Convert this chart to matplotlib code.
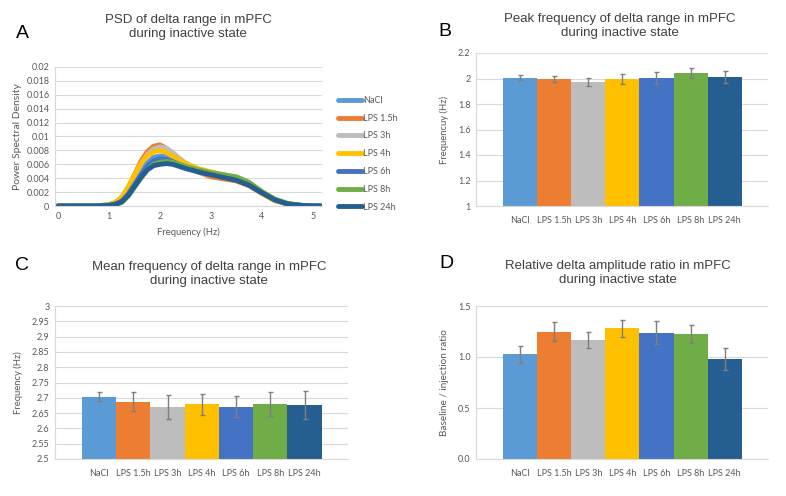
import matplotlib
matplotlib.use("Agg")
import matplotlib.pyplot as plt
import numpy as np

groups = ["NaCl", "LPS 1.5h", "LPS 3h", "LPS 4h", "LPS 6h", "LPS 8h", "LPS 24h"]
colors = ["#5B9BD5", "#ED7D31", "#BDBDBD", "#FFC000", "#4472C4", "#70AD47", "#255E91"]

# PSD curves (panel A)
freq = [0, 0.25, 0.5, 0.75, 1.0, 1.125, 1.25, 1.375, 1.5, 1.625, 1.75, 1.875, 2.0,
        2.125, 2.25, 2.375, 2.5, 2.75, 3.0, 3.25, 3.5, 3.75, 4.0, 4.25, 4.5, 4.75,
        5.0, 5.15]
psd_nacl = [0, 0, 0, 0, 0.0001, 0.0003, 0.0008, 0.0019, 0.0035, 0.0050, 0.0062, 0.0070,
            0.0072, 0.0071, 0.0068, 0.0063, 0.0058, 0.0052, 0.0047, 0.0043, 0.0039,
            0.0031, 0.0019, 0.0009, 0.0003, 0.0001, 0, 0]
psd_lps15 = [0, 0, 0, 0, 0.0002, 0.0005, 0.0012, 0.0026, 0.0045, 0.0064, 0.0078, 0.0086,
             0.0088, 0.0083, 0.0075, 0.0066, 0.0058, 0.0049, 0.0042, 0.0039, 0.0036,
             0.0029, 0.0018, 0.0008, 0.0003, 0.0001, 0, 0]
psd_lps3 = [0, 0, 0, 0, 0.0002, 0.0004, 0.0011, 0.0024, 0.0042, 0.0060, 0.0074, 0.0082,
            0.0085, 0.0083, 0.0077, 0.0069, 0.0062, 0.0053, 0.0047, 0.0043, 0.0039,
            0.0031, 0.0019, 0.0009, 0.0003, 0.0001, 0, 0]
psd_lps4 = [0, 0, 0, 0, 0.0002, 0.0005, 0.0013, 0.0027, 0.0045, 0.0061, 0.0072, 0.0078,
            0.0080, 0.0077, 0.0072, 0.0066, 0.0061, 0.0054, 0.0049, 0.0045, 0.0040,
            0.0031, 0.0018, 0.0008, 0.0003, 0.0001, 0, 0]
psd_lps6 = [0, 0, 0, 0, 0.0001, 0.0003, 0.0007, 0.0017, 0.0031, 0.0045, 0.0057, 0.0065,
            0.0068, 0.0067, 0.0064, 0.0060, 0.0056, 0.0050, 0.0046, 0.0042, 0.0038,
            0.0030, 0.0019, 0.0009, 0.0003, 0.0001, 0, 0]
psd_lps8 = [0, 0, 0, 0, 0.0001, 0.0002, 0.0005, 0.0014, 0.0027, 0.0040, 0.0052, 0.0060,
            0.0063, 0.0064, 0.0063, 0.0060, 0.0057, 0.0052, 0.0048, 0.0045, 0.0042,
            0.0034, 0.0021, 0.0010, 0.0004, 0.0001, 0, 0]
psd_lps24 = [0, 0, 0, 0, 0.0001, 0.0002, 0.0006, 0.0015, 0.0028, 0.0041, 0.0052, 0.0058,
             0.0060, 0.0061, 0.0060, 0.0057, 0.0054, 0.0049, 0.0045, 0.0041, 0.0037,
             0.0030, 0.0019, 0.0009, 0.0003, 0.0001, 0, 0]
psd_all = [psd_nacl, psd_lps15, psd_lps3, psd_lps4, psd_lps6, psd_lps8, psd_lps24]

# bar panels B, C, D
peak_freq = [2.006, 1.996, 1.973, 1.996, 2.006, 2.045, 2.011]
peak_err = [0.020, 0.027, 0.034, 0.042, 0.047, 0.038, 0.045]
mean_freq = [2.703, 2.687, 2.671, 2.679, 2.671, 2.681, 2.677]
mean_err = [0.015, 0.031, 0.039, 0.035, 0.035, 0.039, 0.045]
amp_ratio = [1.028, 1.248, 1.166, 1.281, 1.238, 1.222, 0.979]
amp_err = [0.082, 0.093, 0.077, 0.082, 0.115, 0.087, 0.111]

TICK = "#595959"
GRID = "#D9D9D9"
tick_font = "Lato"
title_font = "Liberation Sans"

fig = plt.figure(figsize=(7.86, 4.96), dpi=100)
W, H = 786.0, 496.0


def make_axes(x0, x1, y0, y1):
    # pixel box -> figure fraction
    return fig.add_axes([x0 / W, 1 - y1 / H, (x1 - x0) / W, (y1 - y0) / H])


def style(ax):
    for s in ["top", "right"]:
        ax.spines[s].set_visible(False)
    ax.spines["bottom"].set_color(GRID)
    ax.spines["left"].set_color(GRID)
    ax.spines["left"].set_linewidth(0.8)
    ax.spines["bottom"].set_linewidth(0.8)
    ax.yaxis.grid(True, color=GRID, linewidth=0.8)
    ax.set_axisbelow(True)
    ax.tick_params(length=0, colors=TICK, labelsize=6.5, pad=4)
    for lab in ax.get_xticklabels() + ax.get_yticklabels():
        lab.set_fontfamily(tick_font)


def bars(ax, vals, errs, ylim, yticks, fmt, ylabel, lsize):
    x = np.arange(len(groups))
    ax.bar(x, [v - ylim[0] for v in vals], bottom=ylim[0], width=1.0, color=colors,
           yerr=errs, ecolor="#7F7F7F", capsize=1.8,
           error_kw=dict(elinewidth=1.0, capthick=1.0))
    ax.set_xlim(-1.29, 7.27)
    ax.set_ylim(*ylim)
    ax.set_yticks(yticks)
    ax.set_yticklabels([fmt.format(t) for t in yticks])
    ax.set_xticks(x)
    ax.set_xticklabels(groups)
    ax.set_ylabel(ylabel, fontsize=lsize, color=TICK, fontfamily=tick_font, labelpad=6)
    style(ax)
    ax.tick_params(axis="x", pad=7)


# ---- A: PSD lines
axA = make_axes(55, 322, 67, 206)
for name, col, vals in zip(groups, colors, psd_all):
    axA.plot(freq, vals, color=col, lw=3.5, label=name, solid_capstyle="round",
             solid_joinstyle="round")
axA.set_xlim(-0.06, 5.18)
axA.set_ylim(0, 0.02)
ayt = np.arange(0, 0.0201, 0.002)
axA.set_yticks(ayt)
axA.set_yticklabels(["0"] + ["{:g}".format(round(t, 3)) for t in ayt[1:]])
axA.set_xticks([0, 1, 2, 3, 4, 5])
axA.set_xlabel("Frequency (Hz)", fontsize=6.8, color=TICK, fontfamily=tick_font, labelpad=5)
axA.set_ylabel("Power Spectral Density", fontsize=7.5, color=TICK, fontfamily=tick_font,
               labelpad=3)
style(axA)
leg = axA.legend(loc="upper left", bbox_to_anchor=(1.03, 0.85), frameon=False,
                 fontsize=6.5, handlelength=2.6, handletextpad=0.15, labelspacing=0.97)
for t in leg.get_texts():
    t.set_color(TICK)
    t.set_fontfamily(tick_font)

# ---- B: peak frequency
axB = make_axes(476, 768, 53, 206)
bars(axB, peak_freq, peak_err, (1, 2.2), [1, 1.2, 1.4, 1.6, 1.8, 2, 2.2], "{:g}",
     "Frequencuy (Hz)", 6.8)

# ---- C: mean frequency
axC = make_axes(55, 348, 306, 459)
bars(axC, mean_freq, mean_err, (2.5, 3.0), list(np.round(np.arange(2.5, 3.001, 0.05), 2)),
     "{:g}", "Frequency (Hz)", 6.8)

# ---- D: amplitude ratio
axD = make_axes(476, 768, 306, 459)
bars(axD, amp_ratio, amp_err, (0, 1.5), [0, 0.5, 1.0, 1.5], "{:.1f}",
     "Baseline / injection ratio", 7.2)

# titles and panel letters
titles = [
    (188, 14, "PSD of delta range in mPFC\nduring inactive state"),
    (620, 13, "Peak frequency of delta range in mPFC\nduring inactive state"),
    (209, 261, "Mean frequency of delta range in mPFC\nduring inactive state"),
    (618, 260, "Relative delta amplitude ratio in mPFC\nduring inactive state"),
]
for x, y, t in titles:
    fig.text(x / W, 1 - y / H, t, ha="center", va="top", fontsize=9.5,
             color="#404040", fontfamily=title_font, linespacing=1.22)

for x, y, t in [(22, 33, "A"), (445, 32, "B"), (22, 265, "C"), (446, 264, "D")]:
    fig.text(x / W, 1 - y / H, t, ha="center", va="center", fontsize=14,
             color="black", fontfamily=title_font)

fig.savefig("out.png", dpi=100)
